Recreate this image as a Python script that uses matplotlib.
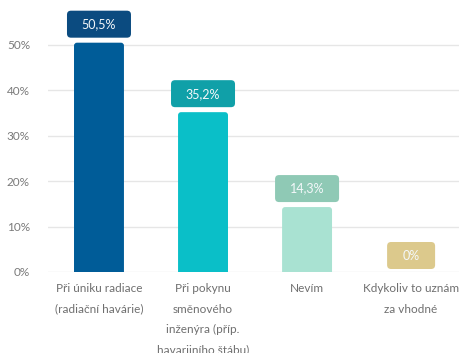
import matplotlib
matplotlib.use("Agg")
import matplotlib.pyplot as plt
from matplotlib.patches import FancyBboxPatch

categories = ["Při úniku radiace\n(radiační havárie)",
              "Při pokynu\nsměnového\ninženýra (příp.\nhavarijního štábu)",
              "Nevím",
              "Kdykoliv to uznám\nza vhodné"]
values = [50.5, 35.2, 14.3, 0.0]
value_labels = ["50,5%", "35,2%", "14,3%", "0%"]
bar_colors = ["#005C98", "#0ABFC8", "#A9E2D2", "#E3D495"]
box_colors = ["#0B4B80", "#10A0A8", "#8FC9B5", "#DCC98C"]
yticks = [0, 10, 20, 30, 40, 50]
ytick_labels = ["0%", "10%", "20%", "30%", "40%", "50%"]

plt.rcParams["font.family"] = ["Lato", "DejaVu Sans"]

W, H = 460, 353
fig = plt.figure(figsize=(W / 100, H / 100), dpi=100)
left, right, bottom, top = 48, 460, 272, 5
ax = fig.add_axes([left / W, 1 - bottom / H, (right - left) / W, (bottom - top) / H])

ymax = 58.8
ax.set_xlim(-0.49, 3.47)
ax.set_ylim(0, ymax)

px_x = 3.96 / (right - left)          # data units per pixel, x
px_y = ymax / (bottom - top)          # data units per pixel, y
aspect = px_y / px_x

bar_w = 0.48
for i, (v, c) in enumerate(zip(values, bar_colors)):
    if v > 0:
        r = 3 * px_x
        p = FancyBboxPatch((i - bar_w / 2, -5), bar_w, v + 5,
                           boxstyle=f"round,pad=0,rounding_size={r}",
                           mutation_aspect=aspect, facecolor=c,
                           edgecolor="none", zorder=3)
        ax.add_patch(p)

    bw = (64 if len(value_labels[i]) > 2 else 48) * px_x
    bh = 27 * px_y
    by = v + 5 * px_y if v > 0 else v + 3 * px_y
    rb = 4 * px_x
    box = FancyBboxPatch((i - bw / 2, by), bw, bh,
                         boxstyle=f"round,pad=0,rounding_size={rb}",
                         mutation_aspect=aspect, facecolor=box_colors[i],
                         edgecolor="none", zorder=4, clip_on=False)
    ax.add_patch(box)
    ax.text(i, by + bh / 2, value_labels[i], ha="center", va="center",
            color="#f4f8fa", fontsize=9, zorder=5)

ax.set_yticks(yticks)
ax.set_yticklabels(ytick_labels)
ax.set_xticks(range(len(categories)))
ax.set_xticklabels(categories, linespacing=2.05, va="top")
ax.tick_params(axis="both", length=0, colors="#7a7a7a", labelsize=8.5)
ax.tick_params(axis="y", pad=13)
ax.tick_params(axis="x", pad=8)
for lbl in ax.get_xticklabels():
    lbl.set_color("#6f6f6f")

ax.grid(axis="y", color="#e6e6e6", linewidth=1, zorder=0)
ax.set_axisbelow(True)
for s in ax.spines.values():
    s.set_visible(False)

fig.savefig("out.png", dpi=100)
